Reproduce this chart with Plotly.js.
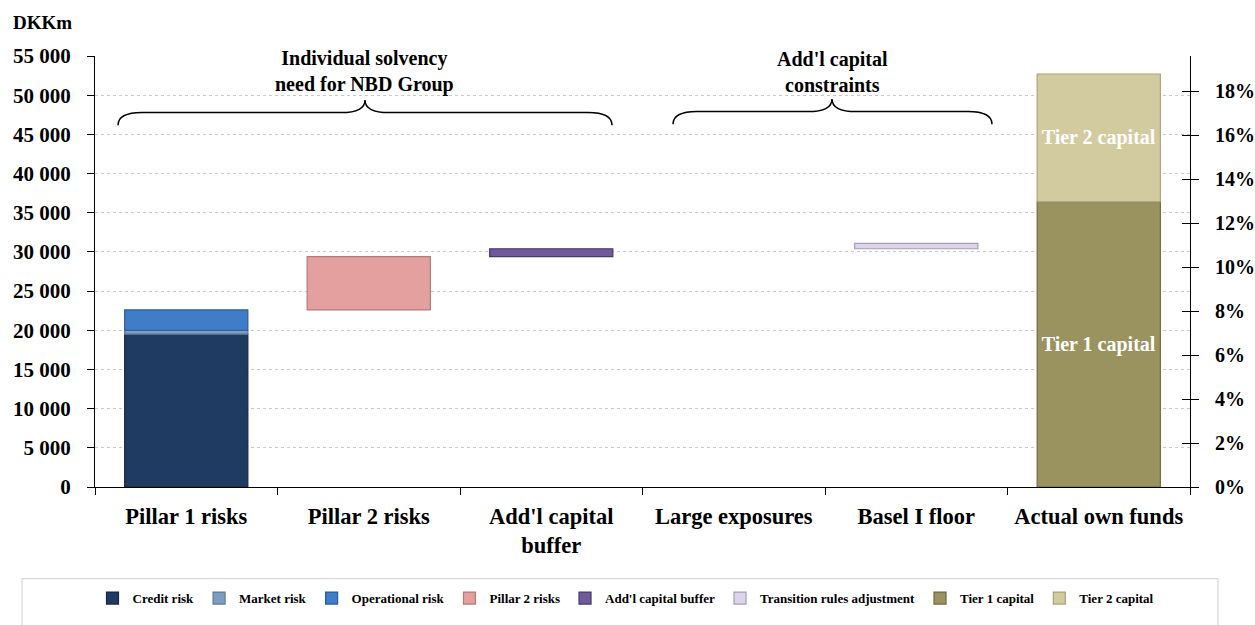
<!DOCTYPE html>
<html>
<head>
<meta charset="utf-8">
<script src="https://cdn.plot.ly/plotly-3.0.1.min.js"></script>
<style>html,body{margin:0;padding:0;background:#fff;}#chart{width:1255px;height:625px;}</style>
</head>
<body>
<div id="chart"></div>
<script>
// ---- Data (DKKm) ----
const categories = ['Pillar 1 risks', 'Pillar 2 risks', "Add'l capital<br>buffer", 'Large exposures', 'Basel I floor', 'Actual own funds'];
const creditRisk        = [19500, null, null, null, null, null];
const marketRisk        = [500,   null, null, null, null, null];
const operationalRisk   = [2600,  null, null, null, null, null];
const pillar2Risks      = [null, 6800, null, null, null, null];
const addlCapitalBuffer = [null, null, 1000, null, null, null];
const transitionRules   = [null, null, null, null, 700, null];
const tier1Capital      = [null, null, null, null, null, 36400];
const tier2Capital      = [null, null, null, null, null, 16300];
const leftTicks  = [0, 5000, 10000, 15000, 20000, 25000, 30000, 35000, 40000, 45000, 50000, 55000];
const rightTicks = [0, 0.02, 0.04, 0.06, 0.08, 0.10, 0.12, 0.14, 0.16, 0.18];

const seriesDefs = [
  {name: 'Credit risk', data: creditRisk, color: '#1f3b62', line: '#142844'},
  {name: 'Market risk', data: marketRisk, color: '#7f9cc0', line: '#5d7898'},
  {name: 'Operational risk', data: operationalRisk, color: '#3f7dc8', line: '#2a5c98'},
  {name: 'Pillar 2 risks', data: pillar2Risks, color: '#e4a09e', line: '#b27a78'},
  {name: "Add'l capital buffer", data: addlCapitalBuffer, color: '#6e5a9c', line: '#463a66'},
  {name: 'Transition rules adjustment', data: transitionRules, color: '#dcd5ea', line: '#a69cba'},
  {name: 'Tier 1 capital', data: tier1Capital, color: '#9b935f', line: '#6f6941', label: true},
  {name: 'Tier 2 capital', data: tier2Capital, color: '#d3cba0', line: '#aaa27a', label: true}
];

// waterfall bases: running level across requirement columns, reset for own funds
const resetCats = ['Actual own funds'];
const bases = seriesDefs.map(() => categories.map(() => null));
let level = 0;
categories.forEach((c, i) => {
  if (resetCats.includes(c)) level = 0;
  seriesDefs.forEach((s, k) => {
    const v = s.data[i];
    if (v !== null && v !== undefined) { bases[k][i] = level; level += v; }
  });
});

const serif = 'Liberation Serif, Times New Roman, serif';
const traces = seriesDefs.map((s, k) => ({
  type: 'bar', name: s.name, x: categories, y: s.data, base: bases[k],
  width: 0.675,
  marker: {color: s.color, line: {color: s.line, width: 1.2}},
  text: s.label ? s.data.map(v => v === null ? '' : s.name) : undefined,
  textposition: s.label ? 'inside' : 'none',
  insidetextanchor: 'middle',
  textangle: 0,
  textfont: {family: serif, size: 20, color: '#ffffff', weight: 700},
  hoverinfo: 'skip'
}));
traces.push({type: 'scatter', mode: 'markers', x: [categories[0]], y: [null], yaxis: 'y2', showlegend: false, hoverinfo: 'skip'});
traces.push({type: 'scatter', mode: 'markers', x: [categories[0]], y: [null], yaxis: 'y3', showlegend: false, hoverinfo: 'skip'});

// pixel -> paper helpers for decorations
const PL = 95, PW = 1095, PT = 56, PH = 442;
const px = x => (x - PL) / PW;
const py = y => (PT + PH - y) / PH;
function brace(x0, x1, tip, yEnd, yFlat, yTip) {
  const r = 24;
  return 'M' + px(x0) + ',' + py(yEnd) +
    ' Q' + px(x0) + ',' + py(yFlat) + ' ' + px(x0 + r) + ',' + py(yFlat) +
    ' L' + px(tip - r) + ',' + py(yFlat) +
    ' Q' + px(tip) + ',' + py(yFlat) + ' ' + px(tip) + ',' + py(yTip) +
    ' Q' + px(tip) + ',' + py(yFlat) + ' ' + px(tip + r) + ',' + py(yFlat) +
    ' L' + px(x1 - r) + ',' + py(yFlat) +
    ' Q' + px(x1) + ',' + py(yFlat) + ' ' + px(x1) + ',' + py(yEnd);
}
const fmtThousands = v => v === 0 ? '0' : Math.floor(v / 1000) + ' ' + String(v % 1000).padStart(3, '0');

const layout = {
  width: 1255, height: 625,
  margin: {l: PL, r: 1255 - PL - PW, t: PT, b: 625 - PT - PH},
  paper_bgcolor: '#ffffff', plot_bgcolor: '#ffffff',
  font: {family: serif, color: '#000000', weight: 700},
  barmode: 'overlay',
  showlegend: true,
  legend: {
    orientation: 'h', x: px(626), xanchor: 'center', y: py(612), yanchor: 'middle',
    font: {family: serif, size: 13, color: '#000', weight: 700},
    bgcolor: 'rgba(0,0,0,0)', borderwidth: 0, traceorder: 'normal'
  },
  xaxis: {
    type: 'category', categoryorder: 'array', categoryarray: categories,
    range: [-0.5, categories.length - 0.5],
    showline: true, linecolor: '#000', linewidth: 1,
    ticks: 'outside', tickson: 'boundaries', ticklen: 7, tickcolor: '#000',
    tickfont: {family: serif, size: 22.5, color: '#000', weight: 700},
    ticklabelstandoff: 9,
    showgrid: false, zeroline: false, fixedrange: true
  },
  yaxis: {
    range: [0, 55000], tickvals: leftTicks,
    ticktext: leftTicks.map(fmtThousands),
    showline: true, linecolor: '#000', linewidth: 1,
    ticks: 'outside', ticklen: 7, tickcolor: '#000',
    tickfont: {family: serif, size: 21, color: '#000', weight: 700},
    ticklabelstandoff: 12,
    showgrid: true, gridcolor: '#c8c8c8', griddash: 'dot', gridwidth: 1,
    zeroline: false, fixedrange: true
  },
  yaxis2: {
    overlaying: 'y', side: 'right', range: [0, 0.1961], tickvals: rightTicks,
    tickformat: '.0%',
    showline: true, linecolor: '#000', linewidth: 1,
    ticks: 'outside', ticklen: 8, tickcolor: '#000',
    tickfont: {family: serif, size: 20, color: '#000', weight: 700},
    ticklabelstandoff: 12,
    showgrid: false, zeroline: false, fixedrange: true
  },
  yaxis3: {
    overlaying: 'y', side: 'right', range: [0, 0.1961], tickvals: rightTicks,
    showticklabels: false, showline: false,
    ticks: 'inside', ticklen: 8, tickcolor: '#000',
    showgrid: false, zeroline: false, fixedrange: true
  },
  annotations: [
    {xref: 'paper', yref: 'paper', x: px(11), y: py(22), xanchor: 'left', yanchor: 'middle', showarrow: false,
     text: 'DKKm', font: {family: serif, size: 19, color: '#000', weight: 700}},
    {xref: 'paper', yref: 'paper', x: px(364), y: py(72), xanchor: 'center', yanchor: 'middle', showarrow: false,
     text: 'Individual solvency<br>need for NBD Group', font: {family: serif, size: 20, color: '#000', weight: 700}},
    {xref: 'paper', yref: 'paper', x: px(832), y: py(72), xanchor: 'center', yanchor: 'middle', showarrow: false,
     text: "Add'l capital<br>constraints", font: {family: serif, size: 20, color: '#000', weight: 700}}
  ],
  shapes: [
    {type: 'path', xref: 'paper', yref: 'paper', path: brace(118, 612, 365, 127, 114, 101), line: {color: '#000', width: 1.5}},
    {type: 'path', xref: 'paper', yref: 'paper', path: brace(673, 992, 832, 126, 113, 100), line: {color: '#000', width: 1.5}},
    {type: 'rect', xref: 'paper', yref: 'paper', x0: px(22), x1: px(1218), y0: py(592), y1: py(640),
     line: {color: '#d0d0d0', width: 1}, fillcolor: 'rgba(0,0,0,0)', layer: 'below'}
  ]
};

Plotly.newPlot('chart', traces, layout, {staticPlot: true, displayModeBar: false});
</script>
</body>
</html>
